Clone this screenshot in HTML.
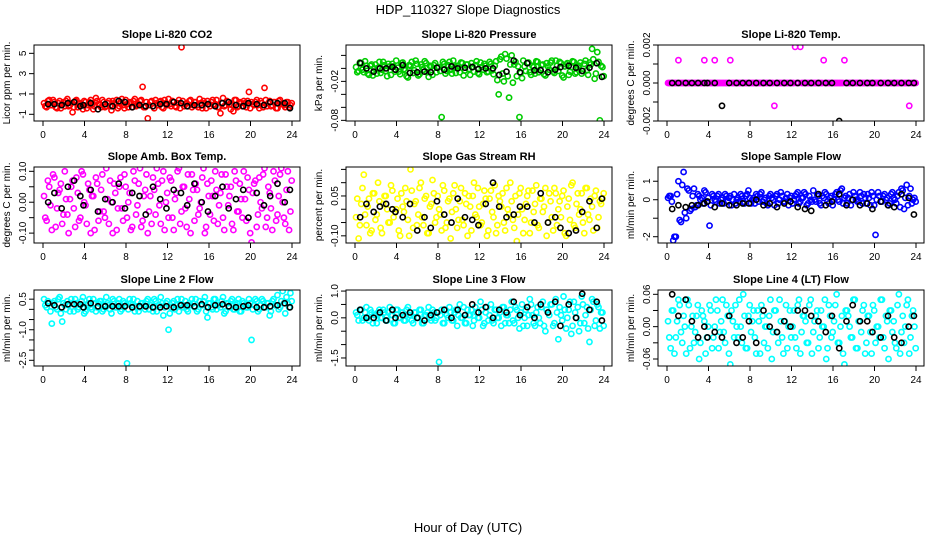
<!DOCTYPE html>
<html><head><meta charset="utf-8">
<style>
html,body{margin:0;padding:0;background:#fff;}
svg{display:block;font-family:"Liberation Sans",Arial,sans-serif;}
</style></head>
<body>
<svg id="chart" width="936" height="540" viewBox="0 0 936 540">
<text x="468" y="14" text-anchor="middle" font-size="13">HDP_110327  Slope Diagnostics</text>
<text x="468" y="532" text-anchor="middle" font-size="13">Hour of Day (UTC)</text>
</svg>
<script>
const H=[0.1,0.35,0.6,0.85,1.1,1.35,1.6,1.85,2.1,2.35,2.6,2.85,3.1,3.35,3.6,3.85,4.1,4.35,4.6,4.85,5.1,5.35,5.6,5.85,6.1,6.35,6.6,6.85,7.1,7.35,7.6,7.85,8.1,8.35,8.6,8.85,9.1,9.35,9.6,9.85,10.1,10.35,10.6,10.85,11.1,11.35,11.6,11.85,12.1,12.35,12.6,12.85,13.1,13.35,13.6,13.85,14.1,14.35,14.6,14.85,15.1,15.35,15.6,15.85,16.1,16.35,16.6,16.85,17.1,17.35,17.6,17.85,18.1,18.35,18.6,18.85,19.1,19.35,19.6,19.85,20.1,20.35,20.6,20.85,21.1,21.35,21.6,21.85,22.1,22.35,22.6,22.85,23.1,23.35,23.6,23.85];
const H2=[0.22,0.47,0.72,0.97,1.22,1.47,1.72,1.97,2.22,2.47,2.72,2.97,3.22,3.47,3.72,3.97,4.22,4.47,4.72,4.97,5.22,5.47,5.72,5.97,6.22,6.47,6.72,6.97,7.22,7.47,7.72,7.97,8.22,8.47,8.72,8.97,9.22,9.47,9.72,9.97,10.22,10.47,10.72,10.97,11.22,11.47,11.72,11.97,12.22,12.47,12.72,12.97,13.22,13.47,13.72,13.97,14.22,14.47,14.72,14.97,15.22,15.47,15.72,15.97,16.22,16.47,16.72,16.97,17.22,17.47,17.72,17.97,18.22,18.47,18.72,18.97,19.22,19.47,19.72,19.97,20.22,20.47,20.72,20.97,21.22,21.47,21.72,21.97,22.22,22.47,22.72,22.97,23.22,23.47,23.72,23.97];
const BH=[0.5,1.1,1.8,2.4,3.0,3.6,3.9,4.6,5.3,6.0,6.7,7.3,7.9,8.6,9.3,9.9,10.6,11.3,11.9,12.6,13.3,13.9,14.6,15.3,15.9,16.6,17.3,17.9,18.6,19.3,19.8,20.6,21.3,21.9,22.6,23.3,23.8];
const xTicks=[0,4,8,12,16,20,24];

const co2Y=[0.1,-0.3,0.4,-0.1,0.2,-0.4,0.3,0,-0.2,0.5,-0.1,-0.8,0.3,-0.3,0.1,-0.5,0.2,-0.1,0.4,-0.5,0.6,0,-0.3,0.2,-0.2,0.3,-0.6,0.1,0.4,-0.2,0.5,-0.4,0,0.2,-0.3,0.5,-0.1,0.3,1.7,-0.3,-1.4,0.2,-0.2,0.4,-0.1,0.3,-0.4,0.1,0.5,-0.2,0.2,-0.3,0.4,5.6,-0.2,0.1,0.3,-0.3,0.2,-0.1,0.5,-0.4,0.1,0.3,-0.2,0.4,0,-0.3,-0.9,0.6,-0.1,0.2,-0.5,-0.7,0.4,-0.2,0.1,0.3,-0.3,1.2,0.2,-0.1,0.4,-0.4,0.1,1.6,-0.2,0.3,-0.1,0.2,-0.4,0.4,0,-0.3,0.2,-0.1];
const co2Y2=[-0.2,0.3,-0.1,0.4,-0.3,0.1,-0.4,0.2,0.3,-0.2,0.1,-0.3,0.4,0,-0.1,0.3,-0.4,0.2,0,-0.2,0.3,-0.1,0.4,-0.3,0.1,-0.2,0.3,0,-0.4,0.2,-0.1,0.4,-0.3,0.1,0.3,-0.2,0,0.4,-0.3,0.2,-0.1,0.3,-0.4,0.1,0.2,-0.3,0.4,-0.1,0,0.3,-0.2,0.1,-0.4,0.3,0,-0.2,0.4,-0.1,0.2,-0.3,0.1,0.3,-0.4,0,0.2,-0.1,0.4,-0.3,0.1,-0.2,0.3,0,-0.1,0.4,-0.3,0.2,-0.2,0.1,0.3,-0.4,0,0.2,-0.1,0.3,-0.3,0.4,0.1,-0.2,0.2,-0.4,0.3,0,-0.1,0.2,-0.3,0.1];
const co2B=[0,0,-0.1,0.1,0.2,-0.2,-0.1,0.1,-0.5,0,-0.2,0.3,0.2,-0.3,-0.1,-0.2,-0.2,0,0,0.2,0.1,-0.2,-0.1,-0.1,0,-0.2,0.1,0.2,-0.1,-0.2,0.1,0,-0.1,0.2,0.1,0.1,-0.4];

const presY=[0.002,-0.004,0.008,-0.006,0.004,-0.01,0.006,0.000,-0.008,0.010,-0.002,0.005,-0.012,0.003,0.007,-0.005,0.001,-0.009,0.009,-0.003,-0.014,0.004,-0.007,0.012,-0.011,0.006,-0.002,0.008,-0.013,0.003,0.005,-0.006,0.002,-0.075,0.007,-0.004,0.010,-0.008,0.001,0.004,-0.006,0.008,-0.003,0.006,-0.010,0.002,0.005,-0.007,0.009,-0.002,0.004,-0.005,0.007,-0.009,0.011,-0.040,0.018,-0.020,0.015,-0.045,0.020,0.006,-0.012,-0.075,-0.015,0.003,0.008,-0.006,0.004,-0.008,0.010,-0.002,0.006,-0.011,0.003,0.009,-0.005,0.012,-0.004,0.008,-0.014,0.006,-0.010,0.002,0.010,-0.006,0.004,-0.008,0.007,-0.003,0.009,0.030,-0.016,0.025,-0.080,0.002];
const presY2=[-0.006,0.009,-0.002,0.011,-0.008,0.004,-0.011,0.006,0.001,-0.007,0.010,-0.004,0.007,-0.010,0.003,0.012,-0.005,0.008,-0.001,-0.012,0.005,0.010,-0.003,0.007,-0.009,0.002,0.011,-0.006,0.004,-0.010,0.008,0.001,-0.004,0.010,-0.008,0.005,-0.002,0.012,-0.007,0.003,0.009,-0.011,0.006,-0.001,0.008,-0.005,0.011,-0.009,0.002,0.007,-0.006,0.010,-0.003,0.004,-0.018,0.014,-0.008,0.022,-0.012,0.006,-0.022,0.010,0.003,-0.007,0.012,-0.004,0.009,-0.010,0.002,0.011,-0.006,0.005,-0.009,0.008,-0.002,0.012,-0.007,0.004,0.010,-0.011,0.003,0.008,-0.005,0.011,-0.008,0.002,0.009,-0.004,0.012,-0.010,0.006,0.014,-0.008,0.010,0.004,-0.012];
const presB=[0.008,0.000,-0.005,0.000,0.000,0.002,-0.002,0.005,-0.007,-0.006,-0.005,-0.006,0.001,-0.002,0.003,0.000,0.001,0.002,-0.001,0.000,0.000,-0.010,-0.005,0.012,-0.006,0.008,-0.003,-0.003,-0.006,-0.002,0.002,0.004,0.001,-0.004,0.001,0.008,-0.013];

const tempY=[0,0,0,0,0.0012,0,0,0,0,0,0,0,0,0,0.0012,0,0,0,0.0012,0,0,0,0,0,0.0012,0,0,0,0,0,0,0,0,0,0,0,0,0,0,0,0,-0.0012,0,0,0,0,0,0,0,0.0019,0,0.0019,0,0,0,0,0,0,0,0,0.0012,0,0,0,0,0,0,0,0.0012,0,0,0,0,0,0,0,0,0,0,0,0,0,0,0,0,0,0,0,0,0,0,0,0,-0.0012,0,0];
const tempY2=[0,0,0,0,0,0,0,0,0,0,0,0,0,0,0,0,0,0,0,0,0,0,0,0,0,0,0,0,0,0,0,0,0,0,0,0,0,0,0,0,0,0,0,0,0,0,0,0,0,0,0,0,0,0,0,0,0,0,0,0,0,0,0,0,0,0,0,0,0,0,0,0,0,0,0,0,0,0,0,0,0,0,0,0,0,0,0,0,0,0,0,0,0,0,0,0];
const tempB=[0,0,0,0,0,0,0,0,-0.0012,0,0,0,0,0,0,0,0,0,0,0,0,0,0,0,0,-0.002,0,0,0,0,0,0,0,0,0,0,0];

const ambY=[0.02,-0.06,0.05,-0.09,0.08,-0.02,0.04,-0.07,0.10,-0.04,0.01,0.07,-0.08,0.03,-0.05,0.09,-0.01,0.06,-0.10,0.02,0.08,-0.06,0.04,-0.03,0.11,-0.07,0.00,0.06,-0.09,0.05,-0.02,0.09,-0.05,0.03,-0.08,0.07,-0.01,0.11,-0.06,0.04,-0.10,0.02,0.08,-0.04,0.06,-0.07,0.10,0.00,-0.05,0.07,-0.09,0.03,0.11,-0.03,0.05,-0.08,0.01,0.09,-0.06,0.04,-0.02,0.08,-0.10,0.06,-0.04,0.02,0.10,-0.07,0.03,-0.05,0.09,-0.01,0.05,-0.09,0.07,-0.03,0.01,0.10,-0.06,0.04,-0.13,0.06,-0.08,0.08,-0.02,0.11,-0.05,0.03,-0.09,0.07,-0.04,0.09,0.00,-0.07,0.10,-0.03];
const ambY2=[-0.05,0.07,-0.01,0.09,-0.08,0.03,0.06,-0.04,0.01,-0.10,0.05,-0.02,0.08,-0.06,0.10,0.00,-0.07,0.04,0.02,-0.09,0.06,-0.03,0.09,-0.05,0.01,0.07,-0.10,0.03,-0.02,0.08,-0.06,0.05,0.00,-0.09,0.10,-0.04,0.06,-0.08,0.02,0.09,-0.03,-0.07,0.04,0.11,-0.01,0.07,-0.09,0.03,0.08,-0.05,0.01,0.10,-0.07,0.05,-0.02,0.09,-0.10,0.04,0.06,-0.04,0.00,0.11,-0.08,0.02,0.07,-0.06,0.04,-0.01,0.09,-0.09,0.05,0.02,-0.07,0.10,-0.03,0.06,-0.05,0.01,0.08,-0.10,0.03,0.07,-0.04,0.00,0.09,-0.08,0.05,-0.02,0.10,-0.06,0.02,0.11,-0.05,0.04,-0.09,0.07];
const ambB=[0.00,0.03,-0.02,0.05,0.07,0.02,-0.01,0.04,-0.03,0.01,0.00,0.06,-0.02,0.03,0.02,-0.04,0.05,0.01,-0.02,0.04,0.03,-0.01,0.06,0.00,-0.03,0.02,0.05,-0.02,0.01,0.04,-0.05,0.03,-0.01,0.02,0.06,0.00,0.04];

const rhY=[-0.03,-0.11,0.02,0.13,-0.06,0.04,-0.08,0.06,-0.02,0.03,-0.09,0.05,0.00,-0.05,0.07,-0.01,0.04,-0.10,0.01,0.08,-0.04,0.15,-0.07,0.03,-0.02,0.10,-0.06,0.05,-0.09,0.02,0.06,-0.03,0.00,-0.08,0.07,-0.05,0.04,-0.01,0.09,-0.07,0.03,-0.04,0.06,-0.10,0.01,0.05,-0.02,0.08,-0.06,0.02,0.04,-0.08,0.07,-0.03,-0.09,0.05,0.01,-0.05,0.08,-0.02,0.03,-0.07,-0.12,0.06,0.00,-0.04,0.05,-0.09,0.07,0.02,-0.06,0.04,-0.01,0.08,-0.05,0.03,-0.08,0.06,0.00,-0.03,0.07,-0.10,0.04,0.09,-0.06,0.02,-0.02,0.06,-0.09,0.08,-0.04,0.01,0.05,-0.07,0.03,0.04];
const rhY2=[0.04,-0.06,0.08,-0.02,0.01,-0.09,0.06,-0.04,0.10,-0.07,0.02,0.05,-0.05,0.09,-0.03,0.00,-0.08,0.06,-0.01,0.03,-0.10,0.07,0.02,-0.06,0.08,-0.03,0.04,-0.09,0.01,0.11,-0.05,0.05,-0.02,0.09,-0.07,0.03,-0.11,0.06,0.00,-0.04,0.08,-0.06,0.02,0.05,-0.08,0.10,-0.03,0.01,-0.05,0.07,-0.10,0.04,-0.01,0.09,-0.06,0.03,0.06,-0.08,0.00,0.10,-0.04,0.05,-0.02,0.08,-0.09,0.02,0.07,-0.05,-0.01,0.09,-0.07,0.04,0.01,-0.10,0.06,-0.03,0.08,-0.06,0.03,0.05,-0.09,0.01,-0.04,0.10,-0.07,0.06,0.00,-0.05,0.08,-0.02,0.04,-0.08,0.07,-0.03,0.02,0.06];
const rhB=[-0.03,0.02,-0.01,0.01,0.02,0.00,-0.01,-0.03,0.02,-0.08,-0.03,-0.07,0.03,-0.02,-0.05,0.04,-0.03,-0.04,-0.06,0.02,0.10,0.01,-0.03,-0.02,0.01,0.01,-0.05,0.06,-0.05,-0.03,-0.07,-0.09,-0.08,-0.01,0.03,-0.07,0.04];

const flowY=[0.1,0.2,-2.2,-2.0,1.0,-1.2,1.5,-1.0,0.5,-0.5,0.6,-0.3,0.2,0.1,0.5,-0.1,-1.4,0.3,0.0,0.2,-0.2,0.1,0.3,-0.1,0.2,0.0,-0.2,0.1,0.3,-0.1,0.2,0.5,-0.2,0.1,0.3,-0.1,0.4,0.0,-0.2,0.2,0.1,-0.3,0.3,0.0,0.2,-0.1,0.3,0.1,-0.2,0.2,0.4,-0.1,0.1,0.3,-0.2,0.0,0.5,-0.1,0.2,-0.3,0.1,0.3,-0.2,0.2,0.0,0.4,-0.1,0.6,0.1,-0.2,0.3,0.0,0.2,-0.1,0.4,-0.2,0.1,0.3,-0.3,0.2,-1.9,0.4,-0.1,0.2,0.0,-0.3,0.3,0.1,-0.2,0.4,0.6,-0.5,0.8,0.2,-0.2,0.1];
const flowY2=[0.2,-0.1,-2.0,0.3,-1.1,0.8,-0.7,0.6,-0.6,0.2,-0.4,0.3,0.0,-0.2,0.4,0.1,-0.3,0.2,-0.1,0.3,0.0,-0.2,0.2,0.1,-0.3,0.3,0.0,-0.1,0.2,-0.2,0.3,0.1,0.0,-0.2,0.2,0.3,-0.1,0.1,-0.3,0.3,0.0,0.2,-0.2,0.4,-0.1,0.1,-0.3,0.2,0.0,0.3,-0.2,0.1,0.4,-0.3,0.2,-0.1,0.0,0.3,-0.2,0.2,0.4,-0.1,0.1,-0.3,0.3,0.0,0.5,-0.2,0.2,0.1,-0.3,0.4,0.0,-0.1,0.2,0.3,-0.2,0.1,0.4,-0.3,0.0,0.2,-0.1,0.3,0.1,-0.2,0.4,0.0,0.2,-0.4,0.5,0.1,-0.3,0.6,0.0,-0.1];
const flowB=[-0.5,-0.3,-0.4,-0.3,-0.3,-0.2,-0.1,-0.4,-0.2,-0.3,-0.3,-0.2,-0.2,0.0,-0.3,-0.2,-0.4,-0.2,-0.1,-0.4,-0.5,-0.6,0.3,-0.3,-0.1,0.3,-0.3,0.0,-0.3,-0.2,-0.5,-0.1,-0.3,-0.4,0.3,0.1,-0.8];

const l2Y=[0.5,0.1,0.3,-0.7,0.4,0.0,0.6,-0.6,0.2,0.4,-0.1,0.3,0.5,0.0,0.2,0.6,-0.1,0.3,0.1,0.5,-0.1,0.3,0.4,0.0,0.6,0.2,-0.2,0.4,0.1,0.5,0.0,0.3,-2.65,0.5,0.2,-0.1,0.4,0.1,0.3,0.0,0.5,0.2,-0.1,0.4,0.2,0.6,-0.3,0.3,-1.0,0.1,0.4,0.2,-0.1,0.5,0.2,0.0,0.3,0.5,0.1,-0.1,0.4,0.2,0.6,-0.4,0.3,0.0,0.5,0.2,0.1,0.6,-0.1,0.3,0.4,0.0,0.2,0.5,-0.1,0.3,0.1,0.5,-1.5,0.2,0.4,0.0,0.5,0.1,0.3,-0.3,0.4,0.2,0.7,0.1,0.9,-0.2,0.3,0.8];
const l2Y2=[0.2,0.4,-0.1,0.3,0.1,0.5,-0.2,0.3,0.0,0.2,0.5,-0.1,0.3,0.1,0.4,-0.2,0.2,0.5,0.0,0.3,0.1,0.4,-0.1,0.2,0.3,0.0,0.5,0.1,0.3,-0.1,0.4,0.2,0.0,0.3,0.5,0.1,-0.1,0.3,0.2,0.4,0.0,0.3,0.5,-0.1,0.2,0.3,0.1,0.4,-0.2,0.3,0.0,0.5,0.2,0.1,0.4,-0.1,0.2,0.3,0.5,0.0,0.2,0.4,-0.1,0.3,0.1,0.5,0.0,0.2,0.4,-0.2,0.3,0.1,0.5,0.0,0.3,-0.1,0.4,0.2,0.1,0.3,0.0,0.5,-0.1,0.2,0.4,0.1,0.3,-0.1,0.5,0.2,0.0,0.4,0.3,0.6,0.1,0.4];
const l2B=[0.3,0.2,0.1,0.25,0.25,0.25,0.1,0.3,0.15,0.15,0.15,0.15,0.15,0.1,0.15,0.15,0.1,0.1,0.15,0.1,0.2,0.2,0.15,0.25,0.1,0.2,0.25,0.15,0.1,0.15,0.2,0.1,0.1,0.15,0.2,0.3,0.1];

const l3Y=[0.2,-0.1,0.3,0.0,0.4,-0.1,0.2,0.1,-0.2,0.3,0.0,0.2,-0.1,0.4,0.1,-0.2,0.3,0.0,0.2,-0.1,0.4,0.1,-0.2,0.2,0.0,0.3,-0.2,0.1,0.4,-0.1,0.2,0.0,-1.65,0.3,-0.2,0.1,0.4,-0.1,0.2,-0.3,0.5,0.0,-0.2,0.3,0.1,-0.3,0.4,0.0,0.6,-0.3,0.2,-0.1,0.5,-0.2,0.3,0.0,-0.3,0.4,0.1,-0.2,0.6,-0.2,0.3,-0.4,0.5,0.0,-0.3,0.7,0.1,-0.3,0.4,-0.2,0.6,-0.5,0.2,0.5,-0.3,0.7,-0.8,0.1,0.8,-0.4,0.3,-0.6,0.6,0.0,-0.5,0.8,-0.2,0.4,-0.9,0.7,-0.3,0.5,-0.4,0.2];
const l3Y2=[0.1,0.3,-0.1,0.2,0.0,0.3,-0.2,0.1,0.2,0.0,0.3,-0.1,0.2,0.1,-0.2,0.3,0.0,0.2,-0.1,0.3,0.1,-0.1,0.2,0.0,0.3,-0.2,0.1,0.2,0.0,0.3,-0.1,0.2,0.1,-0.2,0.3,0.0,0.2,-0.1,0.3,0.1,0.0,0.4,-0.2,0.1,0.3,-0.1,0.2,0.0,0.3,-0.2,0.4,0.1,-0.1,0.3,0.0,0.2,0.4,-0.2,0.1,0.3,-0.1,0.4,0.0,0.2,-0.3,0.3,0.1,0.5,-0.2,0.2,0.0,0.4,-0.3,0.3,0.1,0.5,-0.2,0.2,0.4,-0.1,0.3,0.0,0.6,-0.3,0.2,0.4,-0.2,0.5,0.1,-0.4,0.3,0.6,-0.1,0.4,0.2,-0.3];
const l3B=[0.3,0.0,0.0,0.2,-0.1,0.3,0.0,0.1,0.2,0.0,-0.1,0.1,0.2,0.3,0.0,0.3,0.1,0.5,0.2,0.4,0.0,0.3,0.2,0.6,0.1,0.4,0.0,0.5,0.2,0.6,-0.3,0.5,0.0,0.9,0.3,0.6,-0.1];

const l4Y=[0.01,-0.04,0.03,-0.02,0.05,-0.01,0.02,-0.05,0.04,0.00,-0.03,0.02,-0.06,0.03,0.01,-0.02,0.04,-0.04,0.00,0.03,-0.01,0.05,-0.03,0.02,-0.07,0.01,0.04,-0.02,0.00,0.06,-0.04,0.02,-0.01,0.03,-0.05,0.01,0.04,-0.03,0.00,0.02,-0.06,0.03,-0.01,0.05,-0.02,0.01,-0.04,0.03,0.00,-0.02,0.04,-0.05,0.02,0.01,-0.03,0.05,-0.01,0.02,-0.04,0.03,0.00,-0.06,0.04,-0.02,0.01,0.06,-0.03,0.02,-0.07,0.03,0.00,-0.02,0.05,-0.04,0.01,0.03,-0.05,0.02,-0.01,0.04,-0.03,0.00,0.05,-0.02,0.02,-0.06,0.03,0.01,-0.04,0.06,-0.01,-0.03,0.04,-0.05,0.02,0.00];
const l4Y2=[-0.02,0.03,-0.05,0.01,0.04,-0.03,0.00,0.05,-0.04,0.02,-0.01,0.04,-0.03,0.02,-0.05,0.00,0.03,-0.02,0.05,-0.04,0.01,-0.01,0.04,-0.05,0.03,-0.02,0.00,0.05,-0.03,0.02,-0.04,0.04,0.01,-0.02,0.03,-0.05,0.02,0.00,-0.04,0.05,-0.01,0.03,-0.03,0.01,-0.05,0.04,0.00,-0.02,0.03,-0.04,0.05,-0.01,0.02,-0.03,0.04,-0.05,0.01,0.03,-0.02,0.00,0.05,-0.04,0.02,-0.01,0.04,-0.03,0.00,-0.05,0.03,0.02,-0.02,0.05,-0.04,0.01,-0.01,0.04,-0.03,0.02,-0.05,0.03,0.00,-0.02,0.05,-0.04,0.01,0.03,-0.01,-0.03,0.04,-0.05,0.02,0.00,0.05,-0.02,0.03,-0.04];
const l4B=[0.06,0.02,0.05,0.01,-0.02,0.00,-0.02,-0.01,-0.02,0.02,-0.03,-0.02,0.01,-0.03,0.03,0.00,-0.01,0.01,0.00,0.03,0.03,0.02,0.01,-0.01,0.02,-0.04,0.01,0.04,0.01,0.01,-0.01,-0.02,0.02,-0.02,-0.03,0.00,0.02];

const panels=[
 {name:'co2',title:'Slope Li-820 CO2',ylab:'Licor ppm per min.',col:'#ff0000',c:0,r:0,ymin:-1.66,ymax:5.82,ticks:[-1,1,3,5],labs:['-1','1','3','5'],cy:co2Y,cy2:co2Y2,by:co2B},
 {name:'pressure',title:'Slope Li-820 Pressure',ylab:'kPa per min.',col:'#00cc00',c:1,r:0,ymin:-0.081,ymax:0.036,ticks:[0.02,0,-0.02,-0.04,-0.06,-0.08],labs:['','','-0.02','','','-0.08'],cy:presY,cy2:presY2,by:presB},
 {name:'temp',title:'Slope Li-820 Temp.',ylab:'degrees C per min.',col:'#ff00ff',c:2,r:0,ymin:-0.002,ymax:0.002,ticks:[-0.002,-0.001,0,0.001,0.002],labs:['-0.002','','0.000','','0.002'],cy:tempY,cy2:tempY2,by:tempB},
 {name:'amb-box-temp',title:'Slope Amb. Box Temp.',ylab:'degrees C per min.',col:'#ff00ff',c:0,r:1,ymin:-0.132,ymax:0.114,ticks:[-0.1,-0.05,0,0.05,0.1],labs:['-0.10','','0.00','','0.10'],cy:ambY,cy2:ambY2,by:ambB},
 {name:'gas-rh',title:'Slope Gas Stream RH',ylab:'percent per min.',col:'#ffff00',c:1,r:1,ymin:-0.127,ymax:0.159,ticks:[-0.1,-0.05,0,0.05,0.1,0.15],labs:['-0.10','','','0.05','',''],cy:rhY,cy2:rhY2,by:rhB},
 {name:'sample-flow',title:'Slope Sample Flow',ylab:'ml/min per min.',col:'#0000ff',c:2,r:1,ymin:-2.34,ymax:1.77,ticks:[-2,-1,0,1],labs:['-2','','0','1'],cy:flowY,cy2:flowY2,by:flowB},
 {name:'line2-flow',title:'Slope Line 2 Flow',ylab:'ml/min per min.',col:'#00ffff',c:0,r:2,ymin:-2.78,ymax:0.95,ticks:[0.5,0,-0.5,-1,-1.5,-2,-2.5],labs:['0.5','','','-1.0','','','-2.5'],cy:l2Y,cy2:l2Y2,by:l2B},
 {name:'line3-flow',title:'Slope Line 3 Flow',ylab:'ml/min per min.',col:'#00ffff',c:1,r:2,ymin:-1.8,ymax:1.04,ticks:[-1.5,-1,-0.5,0,0.5,1],labs:['-1.5','','','0.0','','1.0'],cy:l3Y,cy2:l3Y2,by:l3B},
 {name:'line4-flow',title:'Slope Line 4 (LT) Flow',ylab:'ml/min per min.',col:'#00ffff',c:2,r:2,ymin:-0.073,ymax:0.068,ticks:[-0.06,-0.03,0,0.03,0.06],labs:['-0.06','','0.00','','0.06'],cy:l4Y,cy2:l4Y2,by:l4B}
];
const LEFTS=[34,346,658], TOPS=[45,167,290], W=266, PH=76;
const NS='http://www.w3.org/2000/svg';
const svg=document.getElementById('chart');
function mk(tag,attrs,parent){const e=document.createElementNS(NS,tag);for(const k in attrs)e.setAttribute(k,attrs[k]);(parent||svg).appendChild(e);return e;}

panels.forEach(p=>{
  const L=LEFTS[p.c],T=TOPS[p.r];
  const xs=h=>L+9+h/24*(W-17);
  const ys=v=>T+PH-(v-p.ymin)/(p.ymax-p.ymin)*PH;
  const g=mk('g',{});
  
  
  const t=mk('text',{x:L+W/2,y:T-7,'text-anchor':'middle','font-size':'11','font-weight':'bold'},g);
  t.textContent=p.title;
  
  
  const yl=mk('text',{x:0,y:0,'text-anchor':'middle','font-size':'10',transform:`translate(${L-24},${T+PH/2}) rotate(-90)`},g);
  yl.textContent=p.ylab;
  
  
  const clip=mk('clipPath',{id:'clip-'+p.name},g);
  mk('rect',{x:L,y:T,width:W,height:PH},clip);
  const pts=mk('g',{'clip-path':`url(#clip-${p.name})`},g);
  
  
  const n=Math.min(H.length,p.cy.length);
  for(let i=0;i<n;i++){
    const c=mk('circle',{cx:xs(H[i]),cy:ys(p.cy[i]),r:2.6,fill:'none',stroke:p.col,'stroke-width':1.6},pts);
    
    
  }
  const n2=Math.min(H2.length,p.cy2.length);
  for(let i=0;i<n2;i++){
    const c=mk('circle',{cx:xs(H2[i]),cy:ys(p.cy2[i]),r:2.6,fill:'none',stroke:p.col,'stroke-width':1.6},pts);
    
    
  }
  const m=Math.min(BH.length,p.by.length);
  for(let i=0;i<m;i++){
    const c=mk('circle',{cx:xs(BH[i]),cy:ys(p.by[i]),r:2.6,fill:'none',stroke:'#000','stroke-width':1.6},pts);
    
    
  }
  const box=mk('rect',{x:L,y:T,width:W,height:PH,fill:'none',stroke:'#000','stroke-width':1},g);
  
  
  xTicks.forEach(h=>{
    mk('line',{x1:xs(h),x2:xs(h),y1:T+PH,y2:T+PH+5,stroke:'#000'},g);
    const tl=mk('text',{x:xs(h),y:T+PH+17,'text-anchor':'middle','font-size':'10'},g);
    tl.textContent=h;
    
    
  });
  p.ticks.forEach((v,i)=>{
    mk('line',{x1:L-5,x2:L,y1:ys(v),y2:ys(v),stroke:'#000'},g);
    if(p.labs[i]){
      const tl=mk('text',{x:0,y:0,'text-anchor':'middle','font-size':'10',transform:`translate(${L-8},${ys(v)}) rotate(-90)`},g);
      tl.textContent=p.labs[i];
      
      
    }
  });
});
</script>
</body></html>
